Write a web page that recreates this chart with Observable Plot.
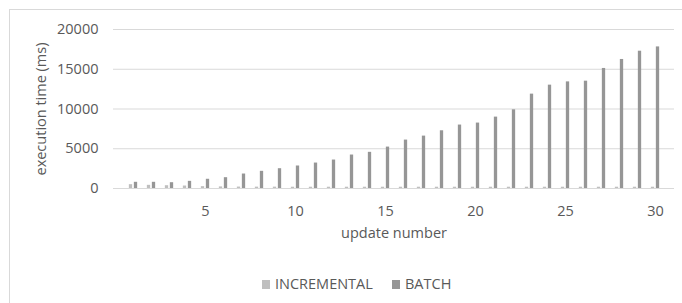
<!DOCTYPE html>
<html>
<head>
<meta charset="utf-8">
<script src="https://cdn.jsdelivr.net/npm/d3@7"></script>
<script src="https://cdn.jsdelivr.net/npm/@observablehq/plot@0.6"></script>
<style>
  body { margin: 0; background: #fff; }
  #wrap { position: relative; width: 682px; height: 303px; overflow: hidden;
          font-family: "Open Sans", sans-serif; color: #595959; font-size: 14.5px; }
  #frame { position: absolute; left: 9px; top: 9px; width: 720px; height: 330px;
           border: 1px solid #d9d9d9; box-sizing: border-box; }
  #chart { position: absolute; left: 0; top: 0; }
  .lbl { position: absolute; white-space: nowrap; line-height: 20px; }
  #ylabel { left: -58.8px; top: 99px; width: 200px; height: 20px; text-align: center; transform: rotate(-90deg); }
  #xlabel { left: 294px; top: 223px; width: 200px; text-align: center; }
  .sw { position: absolute; width: 8px; height: 9px; }
</style>
</head>
<body>
<div id="wrap">
  <div id="frame"></div>
  <div id="chart"></div>
  <div class="lbl" id="ylabel">execution time (ms)</div>
  <div class="lbl" id="xlabel">update number</div>
  <div id="legend"></div>
</div>
<script>
const updateNumbers = [1,2,3,4,5,6,7,8,9,10,11,12,13,14,15,16,17,18,19,20,21,22,23,24,25,26,27,28,29,30];
const incremental = [480,400,350,310,230,200,180,170,170,160,160,160,160,160,160,160,160,160,160,160,160,160,160,160,160,160,160,160,160,160];
const batch = [780,780,730,900,1160,1360,1820,2160,2490,2830,3200,3580,4210,4550,5210,6090,6590,7260,7980,8230,8980,9900,11870,13000,13410,13500,15100,16230,17270,17810];
const seriesNames = ["INCREMENTAL", "BATCH"];
const seriesColors = ["#bfbfbf", "#969696"];
const xTicks = [5,10,15,20,25,30];
const yTicks = [0,5000,10000,15000,20000];

const rows = updateNumbers.map((n, i) => ({n, incremental: incremental[i], batch: batch[i]}));

const chart = Plot.plot({
  width: 682,
  height: 260,
  marginLeft: 113,
  marginRight: 8,
  marginTop: 29,
  marginBottom: 72,
  style: {fontFamily: '"Open Sans", sans-serif', fontSize: "14.5px", color: "#595959", background: "transparent", overflow: "visible"},
  x: {type: "band", domain: updateNumbers, padding: 0, ticks: xTicks, tickSize: 0, tickPadding: 17, label: null},
  y: {domain: [0, 20000], ticks: yTicks, tickFormat: d => String(d), tickSize: 0, tickPadding: 15, label: null},
  marks: [
    Plot.ruleY(yTicks.filter(d => d > 0), {stroke: "#d9d9d9", strokeWidth: 1}),
    Plot.barY(rows, {x: "n", y: "incremental", fill: seriesColors[0], insetLeft: 7.35, insetRight: 7.35, dx: -2.5}),
    Plot.barY(rows, {x: "n", y: "batch", fill: seriesColors[1], insetLeft: 7.35, insetRight: 7.35, dx: 2.5}),
    Plot.ruleY([0], {stroke: "#d9d9d9", strokeWidth: 1})
  ]
});
document.getElementById("chart").appendChild(chart);

// legend
const legend = document.getElementById("legend");
const legendLeft = [262, 392];
seriesNames.forEach((name, i) => {
  const sw = document.createElement("span");
  sw.className = "sw";
  sw.style.left = legendLeft[i] + "px";
  sw.style.top = "279.5px";
  sw.style.background = seriesColors[i];
  legend.appendChild(sw);
  const t = document.createElement("div");
  t.className = "lbl";
  t.style.left = (legendLeft[i] + 13) + "px";
  t.style.top = "273.6px";
  t.textContent = name;
  legend.appendChild(t);
});
</script>
</body>
</html>
